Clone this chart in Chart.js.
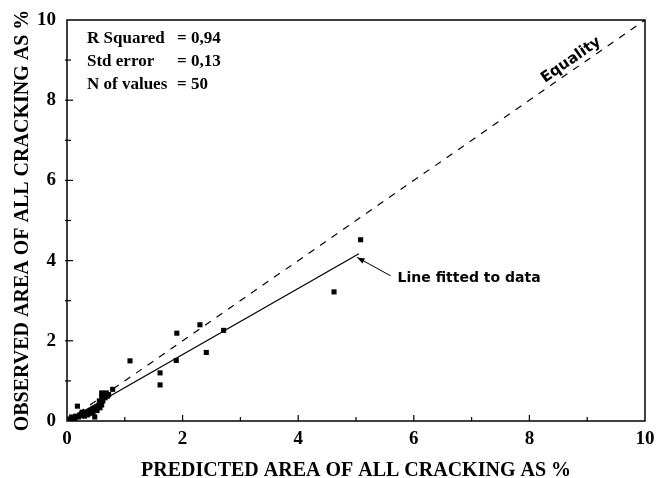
<!DOCTYPE html>
<html>
<head>
<meta charset="utf-8">
<script src="https://cdn.jsdelivr.net/npm/chart.js@4.4.0/dist/chart.umd.min.js"></script>
<style>
  html, body { margin: 0; padding: 0; background: #fff; }
  #wrap { width: 658px; height: 478px; }
</style>
</head>
<body>
<div id="wrap"><canvas id="crackChart" width="658" height="478"></canvas></div>
<script>
// predicted vs observed area of all cracking (%)
const predicted = [5.08, 4.62, 2.71, 2.30, 1.90, 2.41, 1.89, 1.09, 1.61, 1.61, 0.79,
    0.05, 0.08, 0.12, 0.15, 0.18, 0.20, 0.22, 0.25, 0.28, 0.30, 0.33, 0.36, 0.38,
    0.40, 0.42, 0.45, 0.47, 0.48, 0.50, 0.52, 0.55, 0.57, 0.58, 0.60, 0.62, 0.60,
    0.60, 0.65, 0.68, 0.70, 0.72, 0.14, 0.10, 0.35, 0.26, 0.45, 0.52, 0.56, 0.66];
const observed = [4.52, 3.22, 2.26, 2.40, 2.19, 1.71, 1.51, 1.50, 1.20, 0.90, 0.79,
    0.05, 0.10, 0.08, 0.12, 0.37, 0.10, 0.15, 0.14, 0.18, 0.12, 0.20, 0.22, 0.18,
    0.26, 0.24, 0.30, 0.32, 0.10, 0.28, 0.35, 0.38, 0.33, 0.45, 0.40, 0.50, 0.62,
    0.70, 0.68, 0.70, 0.62, 0.66, 0.06, 0.04, 0.15, 0.22, 0.20, 0.26, 0.50, 0.58];

const fitX = [0.05, 5.05];
const fitY = [0.05, 4.17];
const equalX = [0, 10];
const equalY = [0, 10];

const statLabels = ['R Squared', 'Std error', 'N of values'];
const statValues = ['0,94', '0,13', '50'];

const serif = '"Liberation Serif", "Times New Roman", serif';

function pairs(xs, ys) {
    return xs.map((x, i) => ({ x: x, y: ys[i] }));
}

// frame, inward ticks and text notes
const decorations = {
    id: 'decorations',
    afterDraw(chart) {
        const ctx = chart.ctx;
        const area = chart.chartArea;
        const xs = chart.scales.x;
        const ys = chart.scales.y;
        ctx.save();
        ctx.strokeStyle = '#000';
        ctx.lineWidth = 1.5;
        ctx.strokeRect(area.left, area.top, area.right - area.left, area.bottom - area.top);

        ctx.lineWidth = 1.2;
        for (let v = 1; v < 10; v++) {
            const len = v % 2 === 0 ? 6 : 4;
            const px = xs.getPixelForValue(v);
            ctx.beginPath();
            ctx.moveTo(px, area.bottom);
            ctx.lineTo(px, area.bottom - len);
            ctx.stroke();
            const py = ys.getPixelForValue(v);
            ctx.beginPath();
            ctx.moveTo(area.left - 2, py);
            ctx.lineTo(area.left + len, py);
            ctx.stroke();
        }

        // stats box
        ctx.fillStyle = '#000';
        ctx.font = 'bold 17px ' + serif;
        ctx.textBaseline = 'middle';
        ctx.textAlign = 'left';
        statLabels.forEach((lab, i) => {
            const y = area.top + 19 + i * 23;
            ctx.fillText(lab, area.left + 20, y);
            ctx.fillText('= ' + statValues[i], area.left + 110, y);
        });

        // Equality label along the dashed line
        const ex = xs.getPixelForValue(8.72);
        const ey = ys.getPixelForValue(9.0);
        const ang = Math.atan2(ys.getPixelForValue(10) - ys.getPixelForValue(0),
            xs.getPixelForValue(10) - xs.getPixelForValue(0));
        ctx.save();
        ctx.translate(ex, ey);
        ctx.rotate(ang);
        ctx.font = 'bold 15px "DejaVu Sans", sans-serif';
        ctx.textAlign = 'center';
        ctx.fillText('Equality', 0, 0);
        ctx.restore();

        // fitted line note with arrow
        const tx = xs.getPixelForValue(5.72);
        const ty = ys.getPixelForValue(3.55);
        ctx.font = 'bold 14px "DejaVu Sans", sans-serif';
        ctx.textAlign = 'left';
        ctx.fillText('Line fitted to data', tx, ty);
        const ax0 = xs.getPixelForValue(5.6), ay0 = ys.getPixelForValue(3.62);
        const ax1 = xs.getPixelForValue(5.02), ay1 = ys.getPixelForValue(4.08);
        ctx.lineWidth = 1;
        ctx.beginPath();
        ctx.moveTo(ax0, ay0);
        ctx.lineTo(ax1, ay1);
        ctx.stroke();
        const a = Math.atan2(ay1 - ay0, ax1 - ax0);
        ctx.beginPath();
        ctx.moveTo(ax1, ay1);
        ctx.lineTo(ax1 - 8 * Math.cos(a - 0.35), ay1 - 8 * Math.sin(a - 0.35));
        ctx.lineTo(ax1 - 8 * Math.cos(a + 0.35), ay1 - 8 * Math.sin(a + 0.35));
        ctx.closePath();
        ctx.fill();
        ctx.restore();
    }
};

const ctx = document.getElementById('crackChart').getContext('2d');
const chart = new Chart(ctx, {
    type: 'scatter',
    data: {
        datasets: [
            {
                label: 'Observed',
                data: pairs(predicted, observed),
                pointStyle: 'rect',
                pointRadius: 3.6,
                backgroundColor: '#000',
                borderColor: '#000',
                borderWidth: 0
            },
            {
                label: 'Line fitted to data',
                data: pairs(fitX, fitY),
                showLine: true,
                pointRadius: 0,
                borderColor: '#000',
                borderWidth: 1.3
            },
            {
                label: 'Equality',
                data: pairs(equalX, equalY),
                showLine: true,
                pointRadius: 0,
                borderColor: '#000',
                borderWidth: 1.2,
                borderDash: [7, 7]
            }
        ]
    },
    options: {
        responsive: false,
        animation: false,
        layout: { padding: { top: 20, right: 13, left: 0, bottom: 0 } },
        plugins: {
            legend: { display: false },
            tooltip: { enabled: false }
        },
        scales: {
            x: {
                type: 'linear',
                min: 0,
                max: 10,
                afterFit: s => { s.height = 57; s.paddingLeft = 0; s.paddingRight = 0; },
                grid: { display: false, drawTicks: false },
                border: { display: false },
                ticks: {
                    stepSize: 2,
                    color: '#000',
                    padding: 7,
                    font: { family: serif, size: 19, weight: 'bold' }
                },
                title: {
                    display: true,
                    text: 'PREDICTED AREA OF ALL CRACKING AS %',
                    color: '#000',
                    padding: { top: 0, bottom: -3 },
                    font: { family: serif, size: 20, weight: 'bold', lineHeight: 1 }
                }
            },
            y: {
                type: 'linear',
                min: 0,
                max: 10,
                afterFit: s => { s.width = 67; s.paddingTop = 0; s.paddingBottom = 0; },
                grid: { display: false, drawTicks: false },
                border: { display: false },
                ticks: {
                    stepSize: 2,
                    color: '#000',
                    padding: 11,
                    font: { family: serif, size: 19, weight: 'bold' }
                },
                title: {
                    display: true,
                    text: 'OBSERVED AREA OF ALL CRACKING AS %',
                    color: '#000',
                    padding: { top: 11, bottom: 0 },
                    font: { family: serif, size: 20, weight: 'bold' }
                }
            }
        }
    },
    plugins: [decorations]
});
</script>
</body>
</html>
